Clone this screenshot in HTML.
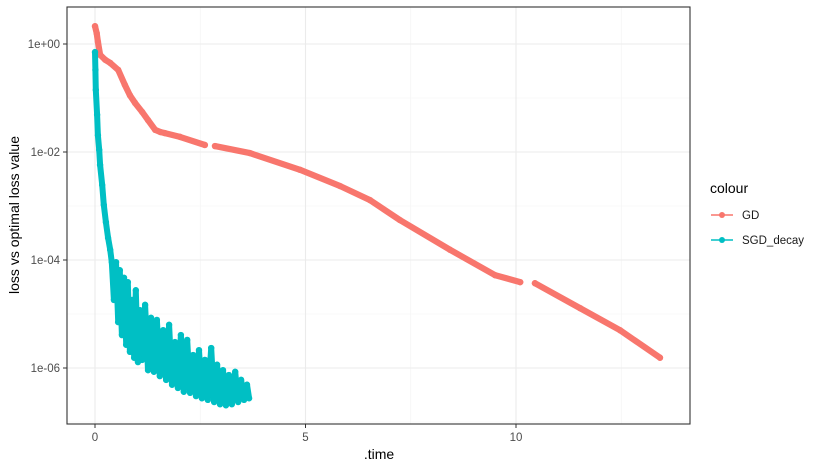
<!DOCTYPE html>
<html><head><meta charset="utf-8"><style>
body{margin:0;background:#fff;font-family:"Liberation Sans",sans-serif}
</style></head><body>
<svg id="chart" width="818" height="468" xmlns="http://www.w3.org/2000/svg" font-family="Liberation Sans, sans-serif">
<rect width="818" height="468" fill="#fff"/>
<g id="grid"></g>
<g id="series"></g>
<rect x="67" y="7" width="623" height="417" fill="none" stroke="#333" stroke-width="1.1"/>
<g id="axes"></g>
<text x="379" y="459" text-anchor="middle" font-size="14">.time</text>
<text transform="translate(19,215) rotate(-90)" text-anchor="middle" font-size="14">loss vs optimal loss value</text>
<g>
<text x="710" y="193" font-size="14">colour</text>
<g><line x1="711" y1="215" x2="733" y2="215" stroke="#F8766D" stroke-width="1.6"/><circle cx="722" cy="215" r="3" fill="#F8766D"/><text x="742" y="219" font-size="11.5" fill="#1a1a1a">GD</text></g>
<g><line x1="711" y1="240" x2="733" y2="240" stroke="#00BFC4" stroke-width="1.6"/><circle cx="722" cy="240" r="3" fill="#00BFC4"/><text x="742" y="244" font-size="11.5" fill="#1a1a1a">SGD_decay</text></g>
</g>
</svg>
<script>
const xTicks=[0,5,10];
const xMinor=[2.5,7.5,12.5];
const yTicks=[0,-2,-4,-6];
const yTickLabels=["1e+00","1e-02","1e-04","1e-06"];
const yMinor=[-1,-3,-5,-7];
const gdTime=[0,0.04,0.07,0.12,0.24,0.36,0.55,0.71,0.83,0.95,1.12,1.26,1.43,1.55,1.66,2.02,2.61,null,2.85,3.68,4.87,5.82,6.53,7.24,8.43,9.5,10.1,null,10.45,11.52,12.47,13.42];
const gdLog=[0.33,0.2,0.04,-0.2,-0.29,-0.35,-0.48,-0.76,-0.95,-1.09,-1.26,-1.41,-1.59,-1.63,-1.65,-1.72,-1.87,null,-1.89,-2.02,-2.33,-2.63,-2.89,-3.26,-3.81,-4.28,-4.41,null,-4.43,-4.89,-5.3,-5.81];
const sgdTime=[0,0.01,0.02,0.05,0.07,0.10,0.12,0.17,0.21,0.26,0.31,0.36,0.40,
0.45,0.50,0.55,0.59,0.64,0.69,0.74,0.78,0.83,0.88,0.93,0.97,1.02,1.07,1.12,
1.19,1.26,1.33,1.40,1.47,1.54,1.62,1.69,1.76,1.83,1.90,1.97,2.04,2.11,2.19,2.26,2.33,2.40,2.47,2.54,2.61,2.68,2.76,2.83,2.90,2.97,3.04,3.11,3.18,3.25,3.33,3.40,3.47,3.54,3.61,3.66];
const sgdLog=[-0.15,-0.48,-0.85,-1.31,-1.69,-1.96,-2.24,-2.61,-2.98,-3.30,-3.59,-3.81,-4.04,
-4.74,-4.04,-5.15,-4.19,-5.39,-4.33,-5.57,-4.41,-5.70,-4.74,-5.81,-4.56,-5.89,-4.93,-5.85,
-4.83,-6.04,-5.07,-6.07,-5.11,-6.15,-5.30,-6.22,-5.20,-6.31,-5.52,-6.37,-5.39,-6.44,-5.48,-6.46,-5.76,-6.52,-5.67,-6.56,-5.85,-6.59,-5.63,-6.63,-5.94,-6.67,-6.04,-6.69,-6.13,-6.67,-6.07,-6.63,-6.22,-6.59,-6.31,-6.56];

const NS="http://www.w3.org/2000/svg";
const X=t=>95+t*42.1;
const Y=l=>44-l*54;
function mk(tag,attrs,parent){const e=document.createElementNS(NS,tag);for(const k in attrs)e.setAttribute(k,attrs[k]);parent.appendChild(e);return e;}
const grid=document.getElementById('grid'),axes=document.getElementById('axes'),ser=document.getElementById('series');
xMinor.forEach(t=>{const l=mk('line',{x1:X(t),x2:X(t),y1:7,y2:424,stroke:'#F3F3F3','stroke-width':0.6},grid);

});
yMinor.forEach(v=>{const l=mk('line',{x1:67,x2:690,y1:Y(v),y2:Y(v),stroke:'#F3F3F3','stroke-width':0.6},grid);

});
xTicks.forEach(t=>{const l=mk('line',{x1:X(t),x2:X(t),y1:7,y2:424,stroke:'#EBEBEB','stroke-width':1.1},grid);


mk('line',{x1:X(t),x2:X(t),y1:424,y2:428,stroke:'#333','stroke-width':1},axes);
const tx=mk('text',{x:X(t),y:441,'text-anchor':'middle','font-size':11.5,fill:'#4d4d4d'},axes);tx.textContent=t;

});
yTicks.forEach((v,i)=>{const l=mk('line',{x1:67,x2:690,y1:Y(v),y2:Y(v),stroke:'#EBEBEB','stroke-width':1.1},grid);


mk('line',{x1:63,x2:67,y1:Y(v),y2:Y(v),stroke:'#333','stroke-width':1},axes);
const tx=mk('text',{x:60,y:Y(v)+4,'text-anchor':'end','font-size':11.5,fill:'#4d4d4d'},axes);tx.textContent=yTickLabels[i];

});
function drawSeries(ts,ls,color,name,w){
 let d='',pen=false;
 ts.forEach((t,i)=>{if(t===null){pen=false;return;}d+=(pen?'L':'M')+X(t).toFixed(1)+','+Y(ls[i]).toFixed(1);pen=true;});
 const p=mk('path',{d:d,fill:'none',stroke:color,'stroke-width':w,'stroke-linecap':'round','stroke-linejoin':'round'},ser);
 
 
 ts.forEach((t,i)=>{if(t===null)return;const c=mk('circle',{cx:X(t),cy:Y(ls[i]),r:3.2,fill:color},ser);
 
 });
}
drawSeries(gdTime,gdLog,'#F8766D','gd',6.2);
drawSeries(sgdTime,sgdLog,'#00BFC4','sgd-decay',6);
</script>
</body></html>
